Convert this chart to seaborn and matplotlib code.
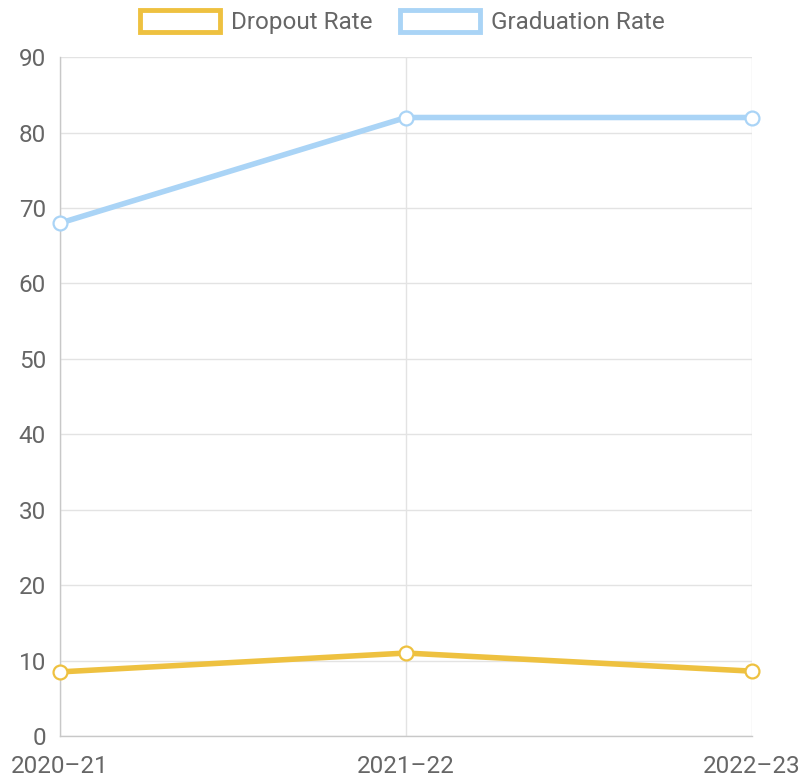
import pandas as pd
import matplotlib.pyplot as plt
import seaborn as sns
from matplotlib.patches import Patch

# chart data
years = ["2020–21", "2021–22", "2022–23"]
dropout_rate = [8.5, 11.0, 8.6]
graduation_rate = [68.0, 82.0, 82.0]
series_names = ["Dropout Rate", "Graduation Rate"]
colors = ["#eec140", "#aad4f6"]

df = pd.DataFrame({
    "year": years * 2,
    "rate": dropout_rate + graduation_rate,
    "series": [series_names[0]] * 3 + [series_names[1]] * 3,
})

sns.set_style("white")
plt.rcParams["font.family"] = ["Roboto", "DejaVu Sans"]

fig = plt.figure(figsize=(8, 7.83), dpi=100)
ax = fig.add_axes([0.075, 0.06, 0.865, 0.867])

sns.lineplot(
    data=df, x="year", y="rate", hue="series",
    palette=colors, linewidth=4, marker="o", markersize=10,
    markerfacecolor="white", markeredgewidth=1.6,
    legend=False, ax=ax, sort=False,
)
for line in ax.lines:
    line.set_markeredgecolor(line.get_color())
    line.set_clip_on(False)
    line.set_zorder(3)

ax.set_xlim(0, 2)
ax.set_ylim(0, 90)
ax.set_yticks(range(0, 91, 10))
ax.set_xlabel("")
ax.set_ylabel("")

ax.grid(True, color="#e3e3e3", linewidth=1)
ax.set_axisbelow(True)
for side in ["top", "right"]:
    ax.spines[side].set_visible(False)
for side in ["left", "bottom"]:
    ax.spines[side].set_color("#c8c8c8")
    ax.spines[side].set_linewidth(1)

ax.tick_params(axis="both", colors="#d6d6d6", labelcolor="#666666",
               labelsize=17.5, length=7, width=1)
ax.tick_params(axis="y", pad=3)
ax.tick_params(axis="x", pad=7)

handles = [Patch(facecolor="white", edgecolor=c, linewidth=3.5) for c in colors]
fig.legend(handles, series_names, loc="center", bbox_to_anchor=(0.503, 0.972),
           ncol=2, frameon=False, fontsize=17.5, handlelength=3.3, handleheight=1.0,
           handletextpad=0.45, columnspacing=1.1, labelcolor="#666666")

fig.savefig("out.png", dpi=100)
